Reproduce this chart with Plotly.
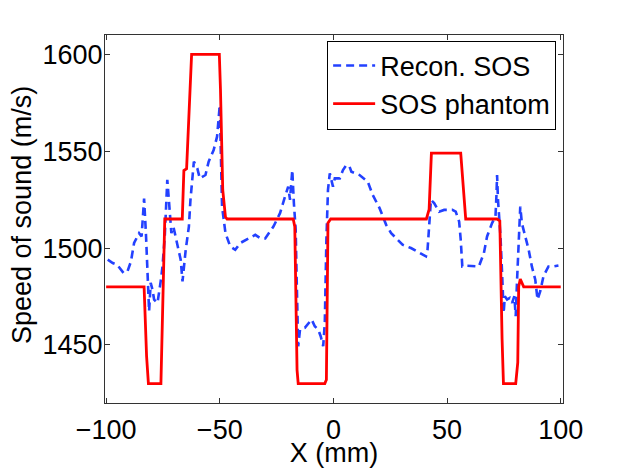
import plotly.graph_objects as go

# reconstructed speed of sound (blue dashed)
recon_x = [-99.3, -97.1, -95.2, -92.3, -90.6, -89.1, -87.7, -85.5, -84.4, -83.3,
           -82.5, -81.8, -81.1, -80.4, -79.6, -78.9, -77.4, -76.0, -75.2, -74.2,
           -73.1, -72.4, -71.3, -70.4, -68.7, -67.2, -66.4, -65.0, -63.6, -62.9,
           -61.4, -59.9, -58.8, -56.3, -54.9, -52.7, -51.2, -50.0, -49.0, -47.5,
           -45.4, -43.2, -41.0, -37.4, -34.4, -32.2, -30.0, -26.4, -23.5, -21.3,
           -19.9, -19.1, -18.1, -17.4, -16.6, -16.2, -15.8, -15.5, -14.7, -12.6,
           -9.6, -8.2, -6.7, -5.6, -4.5, -3.8, -3.1, -2.4, -1.6, -0.2,
           0.6, 2.8, 4.2, 5.7, 7.1, 7.9, 11.5, 15.1, 17.3, 20.3,
           23.2, 25.4, 27.6, 30.4, 34.1, 37.8, 40.7, 41.4, 42.1, 42.9,
           44.3, 46.5, 48.7, 52.3, 53.8, 55.3, 56.0, 56.7, 58.9, 64.0,
           66.2, 67.6, 69.8, 71.3, 71.7, 72.0, 72.4, 73.5, 74.2, 74.9,
           75.4, 76.4, 77.6, 78.6, 79.6, 80.2, 80.8, 81.5, 82.2, 82.9,
           84.4, 85.9, 87.3, 88.8, 89.8, 91.0, 92.4, 94.6, 96.8, 99.0]
recon_y = [1494, 1492.3, 1491.4, 1487.1, 1488, 1493, 1502.6, 1507.7, 1506, 1525.5,
           1507.7, 1485.4, 1467.4, 1482, 1478.5, 1473.4, 1471.7, 1482.8, 1490.5, 1506,
           1535.2, 1524.9, 1507.7, 1511, 1502.6, 1494, 1482.8, 1499, 1511, 1524.9,
           1544.6, 1541.2, 1536, 1537.7, 1544.6, 1550.6, 1557.5, 1573.8, 1521.4, 1507.7,
           1500.8, 1499.1, 1502.6, 1505.1, 1506.8, 1505.1, 1505, 1511.1, 1518, 1526.6,
           1531.7, 1524.9, 1540.3, 1523.2, 1509.4, 1485.4, 1461.4, 1449.3, 1457.9, 1458.8,
           1463.1, 1459.6, 1457.9, 1454.5, 1449.3, 1461.4, 1504.3, 1530, 1538.6, 1531.7,
           1536, 1536, 1540.3, 1542.9, 1542, 1539.4, 1537.7, 1534.3, 1527.4, 1520.6,
           1512, 1507.7, 1505.1, 1501.7, 1500, 1497.4, 1495.7, 1499.1, 1511.1, 1524.9,
           1523.2, 1518.8, 1519.7, 1519.7, 1518.8, 1513.7, 1504.3, 1490.5, 1490.9, 1490.5,
           1497.4, 1506, 1512.9, 1516.3, 1526.6, 1537.7, 1524.9, 1506, 1487.1, 1466.5,
           1475.1, 1473.4, 1474.3, 1471.7, 1475.1, 1464.8, 1483.7, 1504.3, 1521.4, 1512.9,
           1506, 1499.1, 1490.5, 1483.7, 1473.4, 1477.7, 1485.4, 1490.5, 1490.5, 1491]

# true phantom profile (red)
phantom_x = [-100, -83.3, -82.2, -81.4, -75.9, -74.2, -66.5, -65.8, -64.6, -62.4,
             -50.2, -49.7, -48.7, -47.5, -46.8, -17.7, -17.0, -16.0, -15.5, -3.8,
             -3.1, -2.4, -1.2, 40.9, 42.1, 43.1, 56.0, 58.2, 72.0, 73.2,
             74.2, 74.8, 80.2, 81.1, 81.5, 82.2, 83.7, 100]
phantom_y = [1480, 1480, 1444, 1430, 1430, 1515, 1515, 1540, 1541, 1600,
             1600, 1582, 1530, 1516, 1515, 1515, 1511, 1437, 1430, 1430,
             1432, 1513, 1515, 1515, 1520, 1549, 1549, 1515, 1515, 1514,
             1453, 1430, 1430, 1441, 1480, 1484, 1480, 1480]

fig = go.Figure()
fig.add_trace(go.Scatter(x=recon_x, y=recon_y, mode="lines", name="Recon. SOS",
                         line=dict(color="rgb(35,65,255)", width=2.6, dash="8px,5px")))
fig.add_trace(go.Scatter(x=phantom_x, y=phantom_y, mode="lines", name="SOS phantom",
                         line=dict(color="rgb(255,0,0)", width=2.8)))

fnt = "Liberation Sans, Arial, sans-serif"
# page body has an 8px margin at top/left, so the figure is shrunk by that much
fig.update_layout(
    width=614, height=460,
    margin=dict(l=97, r=59, t=27, b=65),
    paper_bgcolor="white", plot_bgcolor="white",
    font=dict(family=fnt, size=27, color="black"),
    showlegend=True,
    legend=dict(x=0.985, y=0.985, xanchor="right", yanchor="top",
                bgcolor="white", bordercolor="black", borderwidth=1,
                font=dict(family=fnt, size=27, color="black"),
                itemwidth=42, tracegroupgap=0),
)
fig.update_xaxes(range=[-100.5, 101], tickvals=[-100, -50, 0, 50, 100],
                 ticktext=["\u2212100", "\u221250", "0", "50", "100"],
                 ticks="inside", ticklen=5, tickcolor="#333",
                 showline=True, linecolor="#333", linewidth=1, mirror="ticks",
                 showgrid=False, zeroline=False, automargin=False,
                 ticklabelstandoff=3,
                 title=dict(text="X (mm)", font=dict(size=27), standoff=8))
fig.update_yaxes(range=[1420, 1610], tickvals=[1450, 1500, 1550, 1600],
                 ticks="inside", ticklen=5, tickcolor="#333",
                 showline=True, linecolor="#333", linewidth=1, mirror="ticks",
                 showgrid=False, zeroline=False, automargin=False,
                 ticklabelstandoff=-4)

# y title placed by hand so it can sit further left than the margin allows
fig.add_annotation(text="Speed of sound (m/s)", xref="paper", yref="paper",
                   x=0, y=0.5, xanchor="center", yanchor="middle",
                   xshift=-83, yshift=4, textangle=-90, showarrow=False,
                   font=dict(family=fnt, size=27, color="black"))

fig.write_html("out.html")
